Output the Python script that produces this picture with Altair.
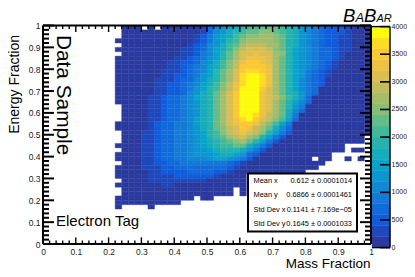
import altair as alt
import pandas as pd

# Level of each cell: one string per row, top row first,
# columns 0.22-1.00 in 0.02 steps. 0-9,a-j = colour band, '.' = empty bin.
ROWS = [
 ".000.0.000"+"0001356789"+"aabbba9865"+"432221000",
 ".000000000"+"000135689a"+"bbccba9865"+"432221000",
 ".000000000"+"00124678ab"+"ccddcb9865"+"432211000",
 "0000000000"+"00124679ac"+"ddddcb9865"+"432211000",
 ".000000000"+"0123568abd"+"eeeddb9865"+"432211000",
 "0000000000"+"1123578ace"+"fffecb9765"+"433211000",
 ".000000000"+"1124579bdf"+"fgffdc9765"+"433210000",
 "0000000001"+"1234679bdf"+"gggfdb9765"+"433210000",
 "0000000011"+"223568aceg"+"hhgfdb9765"+"432100000",
 "0000000011"+"234578aceh"+"hhhgdb9765"+"432100000",
 "0000000111"+"234579bdfh"+"iihgdb9764"+"321000000",
 "0000000112"+"234679bdfi"+"jjigdb9764"+"321000000",
 "0000001112"+"335689bdfi"+"jjigdb9754"+"320000000",
 "0000001122"+"34578acegi"+"jjigdb9754"+"320000000",
 "0000001122"+"34679acegj"+"jjhfdb9754"+"300000000",
 "0000001122"+"35689bdfhj"+"jjgfdb9864"+"300000000",
 "0000011233"+"45789bdfhj"+"jjgfeca863"+"000000000",
 "0000011233"+"45689bdfhj"+"jjgfdb9753"+"000000000",
 ".000011233"+"45689bdfhj"+"jjgfdb9640"+"000000000",
 ".000011233"+"45689bdfhj"+"jjgfdb8530"+"000000000",
 ".000011233"+"45689bdfhj"+"jigedb8400"+"000000000",
 ".000011233"+"45789bdfgi"+"jhfeca7300"+"000000000",
 "0000012334"+"45789bdfgh"+"hgeca74000"+"000000000",
 "0000012334"+"45689bcefh"+"gedb853000"+"000000000",
 ".000112334"+"45679acefg"+"fec9742000"+"000000000",
 ".000112334"+"45679abdef"+"dc97420000"+"00000000.",
 ".000112334"+"456789abcd"+"b974200000"+"00000000.",
 "0000112334"+"456789aabb"+"8642000000"+"00000....",
 ".000112334"+"4566789998"+"6420000000"+"00000.00.",
 "0000112334"+"4566678876"+"3200000000"+"000......",
 "0000112334"+"4555677654"+"2000000000"+".00..0.0.",
 ".000112233"+"4444444321"+"0000000000"+"00.......",
 "0000111223"+"3333333210"+"0000000000"+"0........",
 "0000011222"+"2333322100"+"000000000."+".........",
 "0000011112"+"2222210000"+".........."+".........",
 ".000011111"+"1111000000"+".........."+".........",
 "0000000110"+"0000000000"+".........."+".........",
 ".000000000"+"00000000.0"+".........."+".........",
 ".000000000"+"00000000.0"+".........."+".........",
 "0000000000"+"00.00....."+".........."+".........",
 "0000000000"+".........."+".........."+".........",
 "0....0...."+".........."+".........."+".........",
]
BAND_CHARS = "0123456789abcdefghij"
BAND_COLORS = ["#2a3a9f", "#1e48bc", "#0f5cdd", "#116bda", "#137ad7", "#1188d4", "#0c96cf",
               "#06a4ca", "#16acbb", "#26b3ac", "#40b99b", "#64bc89", "#87bf77", "#a5bd6b",
               "#c2bc5f", "#dabe51", "#ecc342", "#fec832", "#fcdc24", "#fdfb08"]
BAND_WIDTH = 200
AXIS_TICKS = [0, 0.1, 0.2, 0.3, 0.4, 0.5, 0.6, 0.7, 0.8, 0.9, 1]
CBAR_TICKS = [0, 500, 1000, 1500, 2000, 2500, 3000, 3500, 4000]
STATS = [("Mean x", "0.612 ± 0.0001014"),
         ("Mean y", "0.6866 ± 0.0001461"),
         ("Std Dev x", "0.1141 ± 7.169e−05"),
         ("Std Dev y", "0.1645 ± 0.0001033")]

FONT = "Liberation Sans"
W, H = 328, 218.5
LEFT, TOP = 43, 25.5

cells = []
for r, row in enumerate(ROWS):
    assert len(row) == 39, (r, len(row))
    for i, ch in enumerate(row):
        if ch == ".":
            continue
        cx = 0.22 + 0.02 * i
        cells.append({"x": cx, "x2": cx + 0.02, "y": 1 - 0.02 * (r + 1), "y2": 1 - 0.02 * r,
                      "n": (BAND_CHARS.index(ch) + 0.5) * BAND_WIDTH})
cells = pd.DataFrame(cells)

xs = alt.Scale(domain=[0, 1], nice=False, zero=False)
ys = alt.Scale(domain=[0, 1], nice=False, zero=False)
cs = alt.Scale(type="threshold", domain=[BAND_WIDTH * (i + 1) for i in range(19)], range=BAND_COLORS)


def axis():
    return alt.Axis(values=AXIS_TICKS, format=".1~f", title=None, domain=False, ticks=False, grid=False,
                    labelFont=FONT, labelFontSize=8.5, labelColor="#222222", labelPadding=3,
                    labelOverlap=False, labelFlush=False)


def rects(df):
    return alt.Chart(df).mark_rect(strokeWidth=0.4).encode(
        x=alt.X("x:Q", scale=xs, axis=axis()),
        x2="x2:Q",
        y=alt.Y("y:Q", scale=ys, axis=axis()),
        y2="y2:Q",
        fill=alt.Fill("n:Q", scale=cs, legend=None),
        stroke=alt.Stroke("n:Q", scale=cs, legend=None),
    )


def rules(rows, width):
    return alt.Chart(pd.DataFrame(rows)).mark_rule(color="black", strokeWidth=width).encode(
        x=alt.X("x:Q", scale=xs, axis=axis()), x2="x2:Q", y=alt.Y("y:Q", scale=ys, axis=axis()), y2="y2:Q")


def px(x, y, text, size, **kw):
    kw.setdefault("align", "left")
    kw.setdefault("baseline", "middle")
    kw.setdefault("font", FONT)
    kw.setdefault("color", "black")
    return alt.Chart(pd.DataFrame({"a": [0]})).mark_text(text=text, fontSize=size, **kw).encode(
        x=alt.value(x - LEFT), y=alt.value(y - TOP))


def dx(p):
    return p / W


def dy(p):
    return p / H


# inward ticks on all four sides
thin, thick = [], []
for k in range(51):
    v = k / 50
    major = k % 5 == 0
    ly = dx(11 if major else 6)
    lx = dy(6.5 if major else 3.5)
    thin.append({"x": v, "x2": v, "y": 0, "y2": lx})
    thin.append({"x": v, "x2": v, "y": 1, "y2": 1 - lx})
    thick.append({"x": 0, "x2": ly, "y": v, "y2": v})
    thick.append({"x": 1, "x2": 1 - ly, "y": v, "y2": v})
frame = [{"x": 0, "x2": 1, "y": 0, "y2": 0}, {"x": 0, "x2": 1, "y": 1, "y2": 1},
         {"x": 0, "x2": 0, "y": 0, "y2": 1}, {"x": 1, "x2": 1, "y": 0, "y2": 1}]

# colour bar, drawn in the same coordinates right of the frame
CB_L, CB_R = dx(372 - LEFT), dx(390 - LEFT)
CB_Y0, CB_SPAN = -dy(3.6), dy(221)


def cb_y(n):
    return CB_Y0 + CB_SPAN * n / 4000


cbar = pd.DataFrame([{"x": CB_L, "x2": CB_R, "y": cb_y(BAND_WIDTH * i), "y2": cb_y(BAND_WIDTH * (i + 1)),
                      "n": (i + 0.5) * BAND_WIDTH} for i in range(20)])
cb_ticks = [{"x": CB_R, "x2": CB_R - dx(10), "y": cb_y(n), "y2": cb_y(n)} for n in CBAR_TICKS]
cb_frame = [{"x": CB_R, "x2": CB_R, "y": cb_y(0), "y2": cb_y(4000)},
            {"x": CB_L, "x2": CB_R, "y": cb_y(0), "y2": cb_y(0)},
            {"x": CB_L, "x2": CB_R, "y": cb_y(4000), "y2": cb_y(4000)}]

layers = [rects(cells), rects(cbar), rules(thin, 1.4), rules(thick, 2), rules(frame, 2),
          rules(cb_ticks, 1.6), rules(cb_frame, 1.4)]

for n in CBAR_TICKS:
    layers.append(px(391.5, TOP + H * (1 - cb_y(n)), str(n), 7, color="#222222"))

# statistics box
layers.append(alt.Chart(pd.DataFrame({"a": [0]})).mark_rect(fill="white", stroke="black", strokeWidth=2).encode(
    x=alt.value(248 - LEFT), x2=alt.value(357 - LEFT), y=alt.value(173.5 - TOP), y2=alt.value(231.5 - TOP)))
for (name, val), yy in zip(STATS, [181, 195, 210, 224]):
    layers.append(px(253.5, yy, name, 7.4))
    layers.append(px(352, yy, val, 7.4, align="right"))

layers += [
    px(57, 35, "Data Sample", 20.8, angle=90, baseline="alphabetic"),
    px(56, 220.5, "Electron Tag", 15),
    px(370.5, 268.3, "Mass Fraction", 13.5, align="right", baseline="alphabetic"),
    px(19, 35, "Energy Fraction", 14, angle=270, align="right", baseline="alphabetic"),
    px(343, 21.5, "B", 18.5, fontStyle="italic", baseline="alphabetic"),
    px(355.5, 21.5, "A", 13, fontStyle="italic", baseline="alphabetic"),
    px(364, 21.5, "B", 18.5, fontStyle="italic", baseline="alphabetic"),
    px(376.5, 21.5, "AR", 11, fontStyle="italic", baseline="alphabetic"),
]

chart = alt.layer(*layers).properties(
    width=W, height=H,
    padding={"left": LEFT - 8, "top": TOP - 8, "right": 36, "bottom": 25},
    autosize=alt.AutoSizeParams(type="none"),
).configure_view(stroke=None)

chart.save("out.html", embed_options={"renderer": "svg", "actions": False})
